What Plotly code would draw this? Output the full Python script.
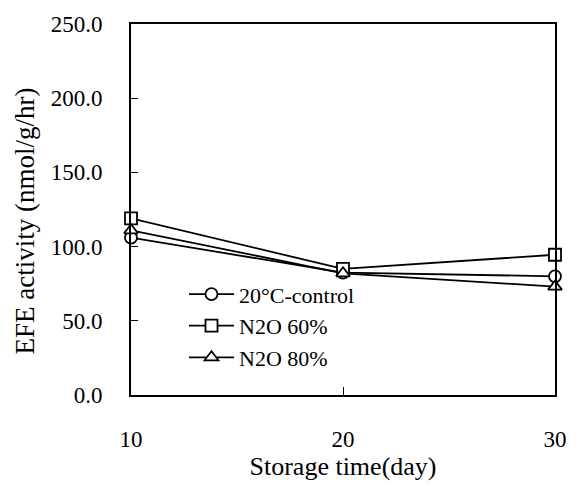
import plotly.graph_objects as go

# Storage days and EFE activity (nmol/g/hr) per treatment
days = [10, 20, 30]
control_20c = [106.0, 82.5, 80.0]
n2o_60 = [119.0, 85.0, 94.5]
n2o_80 = [111.0, 82.0, 73.0]

series = [
    ("20°C-control", control_20c, "circle"),
    ("N2O 60%", n2o_60, "square"),
    ("N2O 80%", n2o_80, "triangle-up"),
]

fig = go.Figure()
for name, vals, sym in series:
    fig.add_trace(go.Scatter(
        x=days, y=vals, name=name, mode="lines+markers",
        line=dict(color="black", width=1.8),
        marker=dict(symbol=sym, size=12, color="white",
                    line=dict(color="black", width=1.8)),
        cliponaxis=False,
    ))

font = "Liberation Serif"
fig.update_layout(
    width=579, height=489,
    margin=dict(l=131, r=16, t=18, b=94),
    paper_bgcolor="white", plot_bgcolor="white",
    font=dict(family=font, size=23, color="black"),
    showlegend=True,
    legend=dict(x=0.125, y=0.328, xanchor="left", yanchor="top",
                bgcolor="rgba(0,0,0,0)", font=dict(size=22),
                tracegroupgap=0, itemwidth=45),
    annotations=[dict(
        text="EFE activity (nmol/g/hr)", textangle=-90,
        xref="paper", yref="paper", x=0, y=0.5,
        xanchor="center", yanchor="middle", xshift=-107, yshift=-12,
        showarrow=False, font=dict(size=27),
    )],
)
fig.update_xaxes(
    range=[10, 30], tickvals=[10, 20, 30], ticks="inside", ticklen=8,
    tickcolor="black", showline=True, linecolor="black", linewidth=2,
    mirror=True, showgrid=False, zeroline=False, ticklabelstandoff=22,
    title=dict(text="Storage time(day)", font=dict(size=26), standoff=4),
)
fig.update_yaxes(
    range=[0, 250], tickvals=[0, 50, 100, 150, 200, 250], tickformat=".1f",
    ticks="inside", ticklen=7, tickcolor="black", showline=True,
    linecolor="black", linewidth=2, mirror=True, showgrid=False,
    zeroline=False, ticklabelstandoff=22,
)

fig.write_html("out.html")
